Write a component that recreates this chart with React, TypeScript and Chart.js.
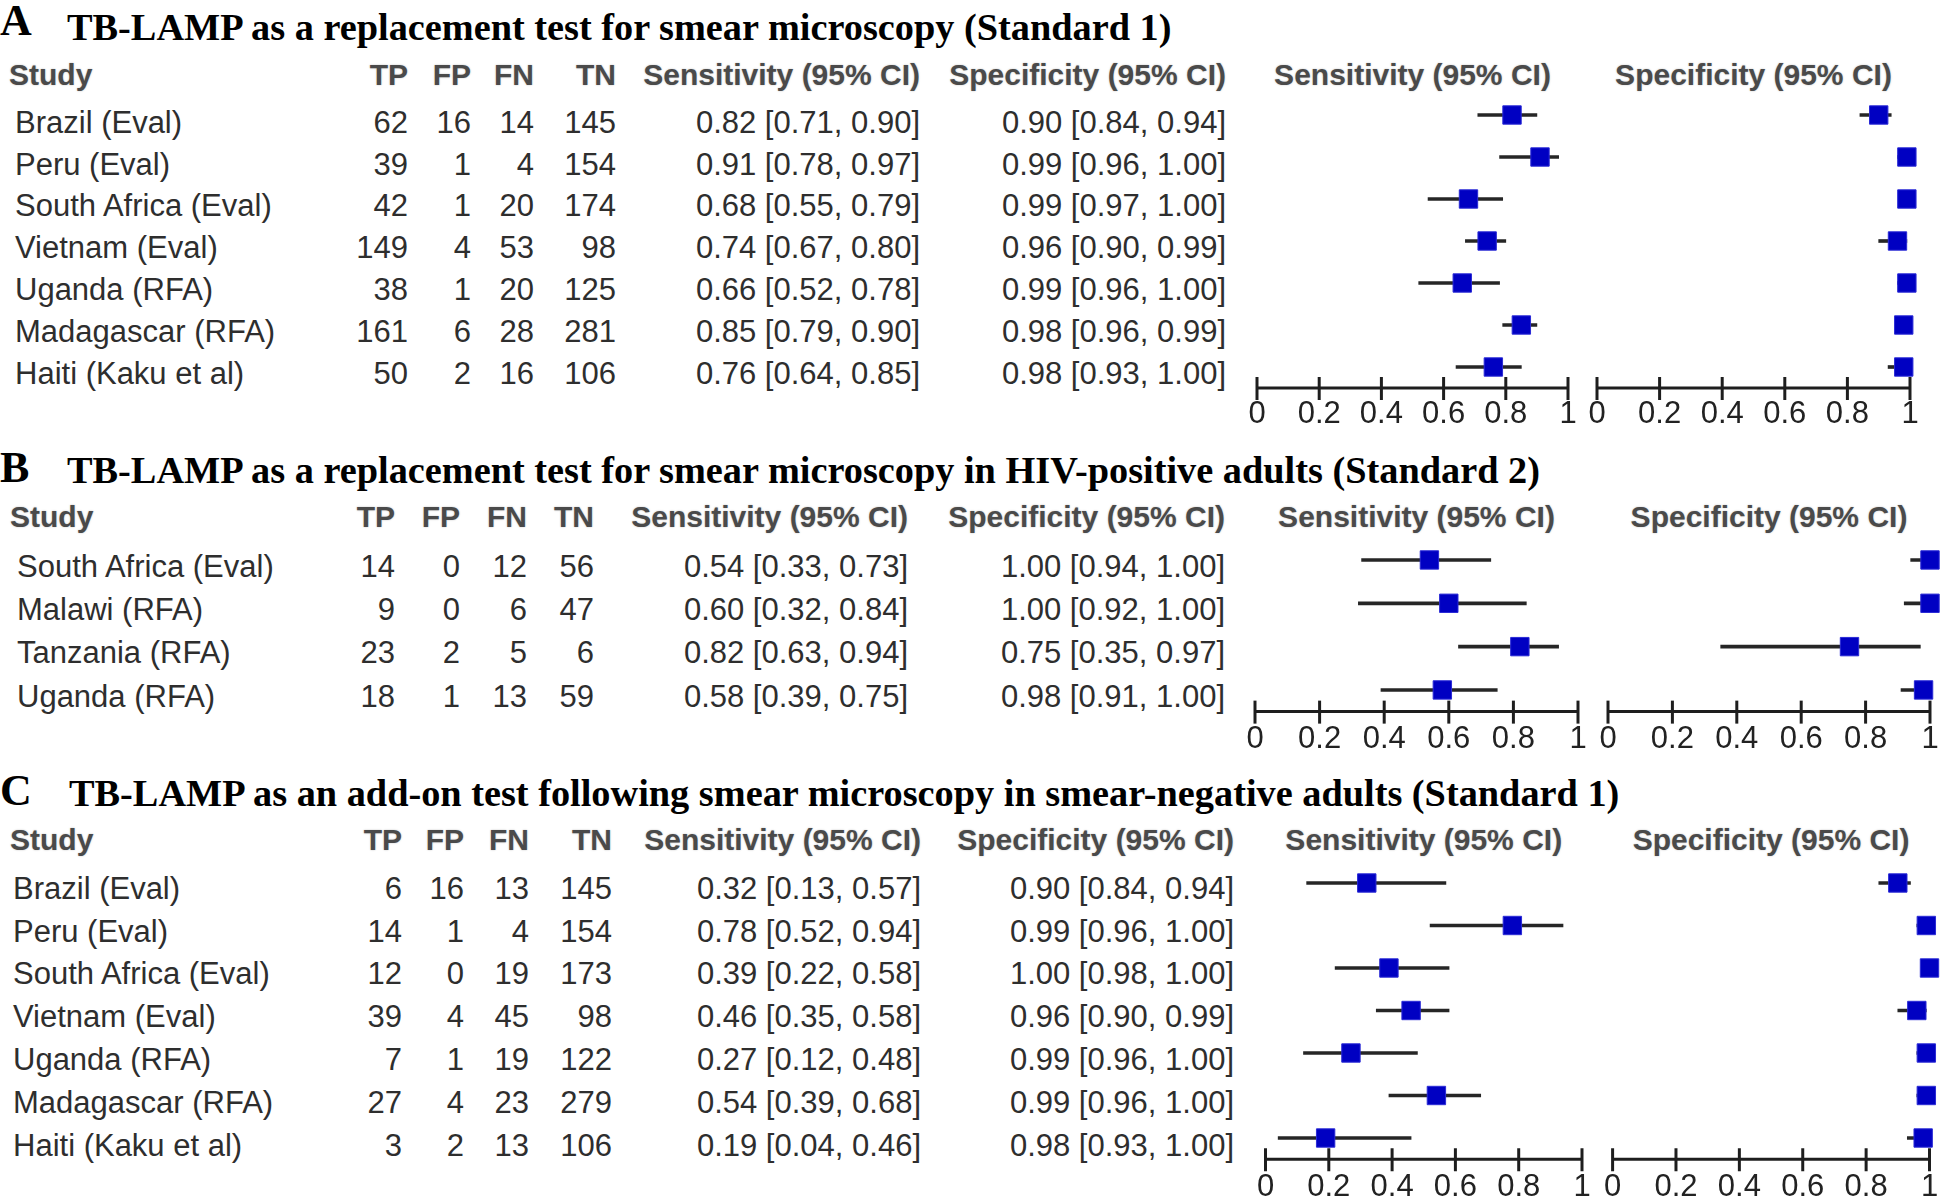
import React, { useEffect, useRef } from 'react';
import { Chart, registerables } from 'chart.js';

Chart.register(...registerables);

// ---------- data ----------
const TICK_VALUES = [0, 0.2, 0.4, 0.6, 0.8, 1];
const TICK_LABELS = ['0', '0.2', '0.4', '0.6', '0.8', '1'];

const TITLE_A = 'TB-LAMP as a replacement test for smear microscopy (Standard 1)';
const TITLE_B = 'TB-LAMP as a replacement test for smear microscopy in HIV-positive adults (Standard 2)';
const TITLE_C = 'TB-LAMP as an add-on test following smear microscopy in smear-negative adults (Standard 1)';

const COL_HEADERS = ['TP', 'FP', 'FN', 'TN'];
const SENS_HEADER = 'Sensitivity (95% CI)';
const SPEC_HEADER = 'Specificity (95% CI)';

const A_STUDIES = ['Brazil (Eval)', 'Peru (Eval)', 'South Africa (Eval)', 'Vietnam (Eval)', 'Uganda (RFA)', 'Madagascar (RFA)', 'Haiti (Kaku et al)'];
const A_TP = [62, 39, 42, 149, 38, 161, 50];
const A_FP = [16, 1, 1, 4, 1, 6, 2];
const A_FN = [14, 4, 20, 53, 20, 28, 16];
const A_TN = [145, 154, 174, 98, 125, 281, 106];
const A_SENS = [0.82, 0.91, 0.68, 0.74, 0.66, 0.85, 0.76];
const A_SENS_LO = [0.71, 0.78, 0.55, 0.67, 0.52, 0.79, 0.64];
const A_SENS_HI = [0.90, 0.97, 0.79, 0.80, 0.78, 0.90, 0.85];
const A_SPEC = [0.90, 0.99, 0.99, 0.96, 0.99, 0.98, 0.98];
const A_SPEC_LO = [0.84, 0.96, 0.97, 0.90, 0.96, 0.96, 0.93];
const A_SPEC_HI = [0.94, 1.00, 1.00, 0.99, 1.00, 0.99, 1.00];

const B_STUDIES = ['South Africa (Eval)', 'Malawi (RFA)', 'Tanzania (RFA)', 'Uganda (RFA)'];
const B_TP = [14, 9, 23, 18];
const B_FP = [0, 0, 2, 1];
const B_FN = [12, 6, 5, 13];
const B_TN = [56, 47, 6, 59];
const B_SENS = [0.54, 0.60, 0.82, 0.58];
const B_SENS_LO = [0.33, 0.32, 0.63, 0.39];
const B_SENS_HI = [0.73, 0.84, 0.94, 0.75];
const B_SPEC = [1.00, 1.00, 0.75, 0.98];
const B_SPEC_LO = [0.94, 0.92, 0.35, 0.91];
const B_SPEC_HI = [1.00, 1.00, 0.97, 1.00];

const C_STUDIES = ['Brazil (Eval)', 'Peru (Eval)', 'South Africa (Eval)', 'Vietnam (Eval)', 'Uganda (RFA)', 'Madagascar (RFA)', 'Haiti (Kaku et al)'];
const C_TP = [6, 14, 12, 39, 7, 27, 3];
const C_FP = [16, 1, 0, 4, 1, 4, 2];
const C_FN = [13, 4, 19, 45, 19, 23, 13];
const C_TN = [145, 154, 173, 98, 122, 279, 106];
const C_SENS = [0.32, 0.78, 0.39, 0.46, 0.27, 0.54, 0.19];
const C_SENS_LO = [0.13, 0.52, 0.22, 0.35, 0.12, 0.39, 0.04];
const C_SENS_HI = [0.57, 0.94, 0.58, 0.58, 0.48, 0.68, 0.46];
const C_SPEC = [0.90, 0.99, 1.00, 0.96, 0.99, 0.99, 0.98];
const C_SPEC_LO = [0.84, 0.96, 0.98, 0.90, 0.96, 0.96, 0.93];
const C_SPEC_HI = [0.94, 1.00, 1.00, 0.99, 1.00, 1.00, 1.00];

// ---------- styling / layout ----------
const PAGE_W = 1945;
const PAGE_H = 1200;
const SANS = '"Liberation Sans", Arial, Helvetica, sans-serif';
const SERIF = '"Liberation Serif", "Times New Roman", Times, serif';
const TEXT_COLOR = '#2e2e2e';
const HEAD_COLOR = '#4a4a4a';

const fmt = (v: number, lo: number, hi: number) => `${v.toFixed(2)} [${lo.toFixed(2)}, ${hi.toFixed(2)}]`;

type TxtProps = {
  x: number; cy: number; text: string; size?: number; bold?: boolean;
  align?: 'left' | 'right' | 'center'; color?: string; serif?: boolean; shadow?: boolean;
};

function Txt({ x, cy, text, size = 31, bold = false, align = 'left', color = TEXT_COLOR, serif = false, shadow = false }: TxtProps) {
  const k = serif ? 0.5065 : 0.4885;
  const style: React.CSSProperties = {
    position: 'absolute',
    top: cy - k * size,
    fontFamily: serif ? SERIF : SANS,
    fontSize: size,
    lineHeight: `${size}px`,
    fontWeight: bold ? 700 : 400,
    color,
    whiteSpace: 'nowrap',
    textShadow: shadow ? '0 0 2px rgba(0,0,0,0.25)' : undefined,
  };
  if (align === 'left') style.left = x;
  else if (align === 'right') style.right = PAGE_W - x;
  else { style.left = x; style.transform = 'translateX(-50%)'; }
  return <div style={style}>{text}</div>;
}

const axisPlugin = {
  id: 'forestAxis',
  afterDraw(chart: any) {
    const xs = chart.scales.x;
    const ctx = chart.ctx as CanvasRenderingContext2D;
    const y = chart.chartArea.bottom;
    ctx.save();
    ctx.strokeStyle = '#1e1e1e';
    ctx.lineWidth = 3;
    ctx.beginPath();
    ctx.moveTo(xs.getPixelForValue(TICK_VALUES[0]), y);
    ctx.lineTo(xs.getPixelForValue(TICK_VALUES[TICK_VALUES.length - 1]), y);
    ctx.stroke();
    ctx.lineWidth = 3;
    xs.ticks.forEach((t: any) => {
      const px = xs.getPixelForValue(t.value);
      ctx.beginPath();
      ctx.moveTo(px, y - 11);
      ctx.lineTo(px, y + 12);
      ctx.stroke();
    });
    ctx.restore();
  },
};

type ForestProps = {
  labels: string[]; est: number[]; lo: number[]; hi: number[];
  x0: number; x1: number; bandTop: number; band: number; tickPad: number;
};

function Forest({ labels, est, lo, hi, x0, x1, bandTop, band, tickPad }: ForestProps) {
  const ref = useRef<HTMLCanvasElement>(null);
  const PAD_X = 25;
  const PAD_TOP = 25;
  const AXIS_H = 55;
  const n = labels.length;
  const left = Math.floor(x0) - PAD_X;
  const padL = x0 - left;
  const width = Math.ceil(x1 + PAD_X - left);
  const padR = width - (x1 - left);
  const top = Math.floor(bandTop) - PAD_TOP;
  const padT = bandTop - top;
  const height = Math.ceil(padT + n * band + AXIS_H);
  const padB = height - (padT + n * band + AXIS_H);

  useEffect(() => {
    if (!ref.current) return;
    const chart = new Chart(ref.current, {
      type: 'bar',
      data: {
        labels,
        datasets: [
          {
            type: 'line',
            data: est,
            showLine: false,
            pointStyle: 'rect',
            pointRadius: 13,
            pointHoverRadius: 13,
            pointBackgroundColor: '#0000c2',
            pointBorderColor: '#2a2ad6',
            pointBorderWidth: 1,
            clip: false,
            order: 0,
          } as any,
          {
            type: 'bar',
            data: lo.map((l, i) => [l, hi[i]]),
            backgroundColor: '#262626',
            barThickness: 3,
            borderWidth: 0,
            order: 1,
          } as any,
        ],
      },
      options: {
        indexAxis: 'y',
        responsive: false,
        animation: false,
        events: [],
        layout: { padding: { left: padL, right: padR, top: padT, bottom: padB }, autoPadding: false } as any,
        plugins: { legend: { display: false }, tooltip: { enabled: false } },
        scales: {
          y: { type: 'category', display: false, offset: true },
          x: {
            type: 'linear',
            min: 0,
            max: 1,
            grid: { display: false, drawTicks: false },
            border: { display: false },
            afterBuildTicks: (s: any) => { s.ticks = TICK_VALUES.map((v) => ({ value: v })); },
            afterFit: (s: any) => { s.height = AXIS_H; },
            ticks: {
              autoSkip: false,
              maxRotation: 0,
              minRotation: 0,
              padding: tickPad,
              color: '#222',
              font: { family: SANS, size: 31 },
              callback: (_v: any, i: number) => TICK_LABELS[i],
            },
          },
        },
      } as any,
      plugins: [axisPlugin],
    });
    return () => chart.destroy();
  }, []);

  return (
    <canvas
      ref={ref}
      width={width}
      height={height}
      style={{ position: 'absolute', left, top, width, height }}
    />
  );
}

type PanelProps = {
  letter: string; letterCy: number; title: string; titleCy: number; titleX: number;
  headCy: number; rowCy0: number; rowStep: number; studyX: number; labelX: number;
  colX: number[]; sensX: number; specX: number;
  studies: string[]; tp: number[]; fp: number[]; fn: number[]; tn: number[];
  sens: number[]; sensLo: number[]; sensHi: number[];
  spec: number[]; specLo: number[]; specHi: number[];
  sensAxis: [number, number]; specAxis: [number, number];
  bandTop: number; band: number; tickPad: number;
};

function Panel(p: PanelProps) {
  const cols = [p.tp, p.fp, p.fn, p.tn];
  return (
    <>
      <Txt x={0} cy={p.letterCy} text={p.letter} size={44} bold serif color="#000" />
      <Txt x={p.titleX} cy={p.titleCy} text={p.title} size={38.3} bold serif color="#000" />
      <Txt x={p.studyX} cy={p.headCy} text="Study" size={30} bold color={HEAD_COLOR} shadow />
      {COL_HEADERS.map((h, j) => (
        <Txt key={h} x={p.colX[j]} cy={p.headCy} text={h} size={30} bold align="right" color={HEAD_COLOR} shadow />
      ))}
      <Txt x={p.sensX} cy={p.headCy} text={SENS_HEADER} size={30} bold align="right" color={HEAD_COLOR} shadow />
      <Txt x={p.specX} cy={p.headCy} text={SPEC_HEADER} size={30} bold align="right" color={HEAD_COLOR} shadow />
      <Txt x={(p.sensAxis[0] + p.sensAxis[1]) / 2} cy={p.headCy} text={SENS_HEADER} size={30} bold align="center" color={HEAD_COLOR} shadow />
      <Txt x={(p.specAxis[0] + p.specAxis[1]) / 2} cy={p.headCy} text={SPEC_HEADER} size={30} bold align="center" color={HEAD_COLOR} shadow />
      {p.studies.map((s, i) => {
        const cy = p.rowCy0 + i * p.rowStep;
        return (
          <React.Fragment key={s + i}>
            <Txt x={p.labelX} cy={cy} text={s} />
            {cols.map((c, j) => (
              <Txt key={j} x={p.colX[j]} cy={cy} text={String(c[i])} align="right" />
            ))}
            <Txt x={p.sensX} cy={cy} text={fmt(p.sens[i], p.sensLo[i], p.sensHi[i])} align="right" />
            <Txt x={p.specX} cy={cy} text={fmt(p.spec[i], p.specLo[i], p.specHi[i])} align="right" />
          </React.Fragment>
        );
      })}
      <Forest labels={p.studies} est={p.sens} lo={p.sensLo} hi={p.sensHi}
        x0={p.sensAxis[0]} x1={p.sensAxis[1]} bandTop={p.bandTop} band={p.band} tickPad={p.tickPad} />
      <Forest labels={p.studies} est={p.spec} lo={p.specLo} hi={p.specHi}
        x0={p.specAxis[0]} x1={p.specAxis[1]} bandTop={p.bandTop} band={p.band} tickPad={p.tickPad} />
    </>
  );
}

export default function App() {
  return (
    <div style={{ position: 'absolute', left: 0, top: 0, width: PAGE_W, height: PAGE_H, background: '#fff', overflow: 'hidden' }}>
      <Panel
        letter="A" letterCy={21} title={TITLE_A} titleCy={27} titleX={67}
        headCy={75} rowCy0={122} rowStep={41.8} studyX={9} labelX={15}
        colX={[408, 471, 534, 616]} sensX={920} specX={1226}
        studies={A_STUDIES} tp={A_TP} fp={A_FP} fn={A_FN} tn={A_TN}
        sens={A_SENS} sensLo={A_SENS_LO} sensHi={A_SENS_HI}
        spec={A_SPEC} specLo={A_SPEC_LO} specHi={A_SPEC_HI}
        sensAxis={[1257, 1568]} specAxis={[1597, 1910]}
        bandTop={94} band={42} tickPad={8}
      />
      <Panel
        letter="B" letterCy={468} title={TITLE_B} titleCy={470} titleX={67}
        headCy={517} rowCy0={566} rowStep={43.3} studyX={10} labelX={17}
        colX={[395, 460, 527, 594]} sensX={908} specX={1225}
        studies={B_STUDIES} tp={B_TP} fp={B_FP} fn={B_FN} tn={B_TN}
        sens={B_SENS} sensLo={B_SENS_LO} sensHi={B_SENS_HI}
        spec={B_SPEC} specLo={B_SPEC_LO} specHi={B_SPEC_HI}
        sensAxis={[1255, 1578]} specAxis={[1608, 1930]}
        bandTop={538.3} band={43.33} tickPad={9}
      />
      <Panel
        letter="C" letterCy={791} title={TITLE_C} titleCy={793} titleX={69}
        headCy={840} rowCy0={888} rowStep={42.8} studyX={10} labelX={13}
        colX={[402, 464, 529, 612]} sensX={921} specX={1234}
        studies={C_STUDIES} tp={C_TP} fp={C_FP} fn={C_FN} tn={C_TN}
        sens={C_SENS} sensLo={C_SENS_LO} sensHi={C_SENS_HI}
        spec={C_SPEC} specLo={C_SPEC_LO} specHi={C_SPEC_HI}
        sensAxis={[1265.5, 1582]} specAxis={[1612.6, 1929.5]}
        bandTop={861.75} band={42.5} tickPad={10}
      />
    </div>
  );
}
